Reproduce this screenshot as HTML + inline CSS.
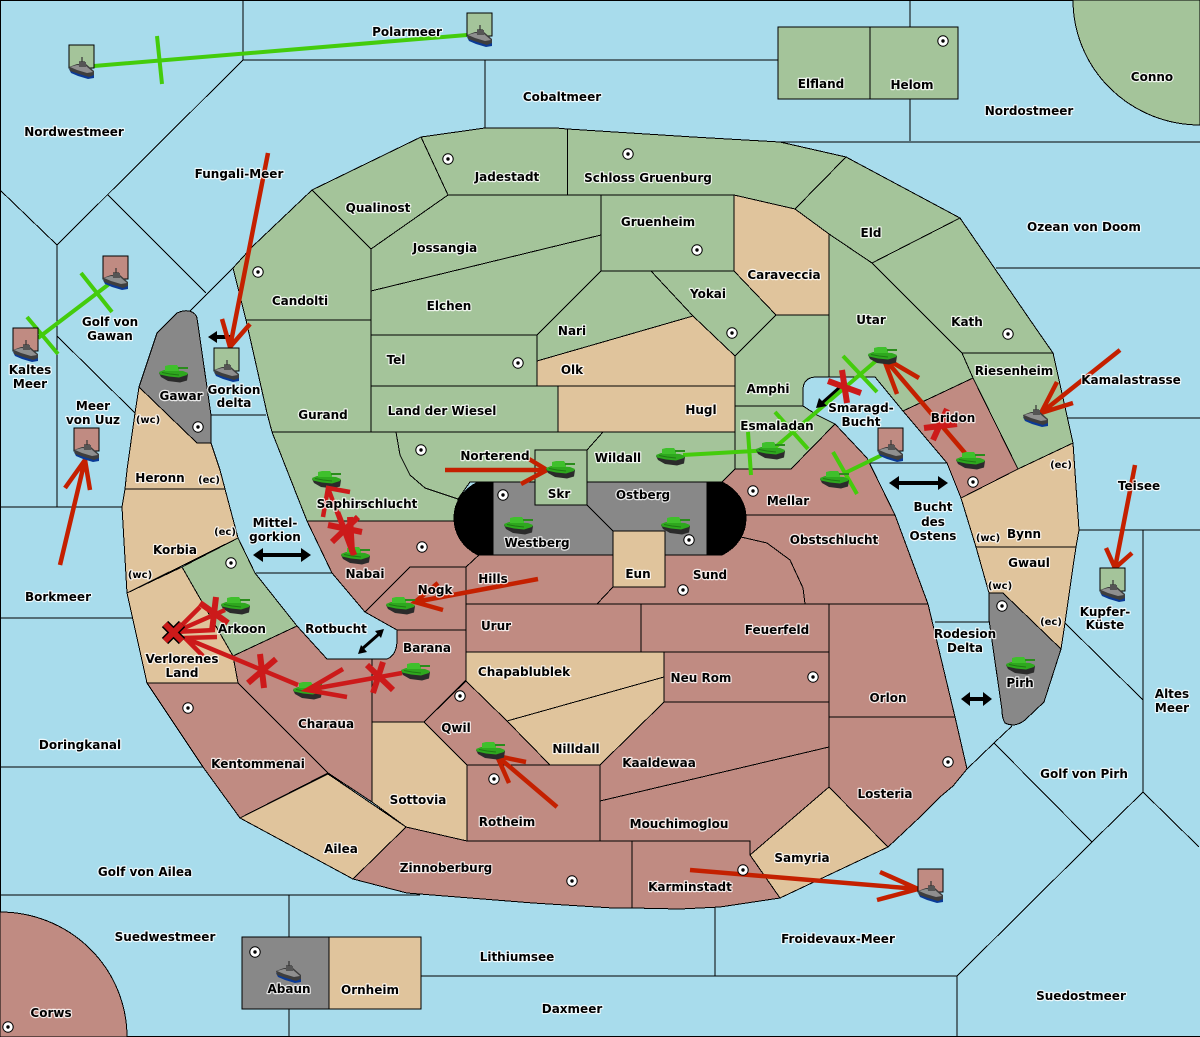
<!DOCTYPE html>
<html><head><meta charset="utf-8"><title>Map</title>
<style>
html,body{margin:0;padding:0;background:#a8dcec;width:1200px;height:1037px;overflow:hidden}
svg{display:block;overflow:hidden}
.l polygon,.l path,.l rect{stroke:#000;stroke-width:1}
.l,.s{shape-rendering:crispEdges}
.s{stroke:#000;stroke-width:1;fill:none}
.g{fill:#a4c49a}.t{fill:#e0c49c}.r{fill:#c08b82}.y{fill:#888}
text{font-family:"DejaVu Sans","Liberation Sans",sans-serif;font-size:12px;font-weight:bold;text-anchor:middle;fill:#000;stroke:#fff;stroke-opacity:.8;stroke-width:2.4;paint-order:stroke;stroke-linejoin:round}
.o{stroke:#c42000;stroke-width:4.5;fill:none}
.x{stroke:#cc1a1a;stroke-width:6;fill:none}
.v{stroke:#44cc0c;stroke-width:4;fill:none}
.b{stroke:#000;stroke-width:4;fill:none}
</style></head><body>
<svg xmlns="http://www.w3.org/2000/svg" width="1200" height="1037" viewBox="0 0 1200 1037">
<defs>
<g id="ship">
<path d="M0 12L2 16L9 19L19 22L25 21L25 17Z" fill="#0a3a96"/>
<path d="M0 10L1 14L10 17L20 20L25 18L25 14L17 7L8 7Z" fill="#3e3e3e"/>
<path d="M1 10L8 8L17 9L24 15L18 16L8 13Z" fill="#8f8f8f"/>
<path d="M13 0V8M10 5H16" stroke="#333" stroke-width="1.2"/>
<rect x="10" y="5" width="7" height="5" fill="#555"/>
</g>
<g id="tank">
<path d="M0 8L2 12L9 16L21 17.5L28 15.5L29 9Z" fill="#2b2b2b"/>
<path d="M0 7L5 5L24 6L29 8L28 10L20 12.5L10 11.5L1 9.5Z" fill="#2ea81e"/>
<path d="M6 1L10 0L18 0L20 3L20 6L6 6Z" fill="#3fc02c"/>
<rect x="19" y="2" width="10" height="2" fill="#2a8c1c"/>
<path d="M3 7.5L11 9L20 10" stroke="#1f7a14" stroke-width="1" fill="none"/>
</g>
<g id="dot"><circle r="5.2" fill="#fff" stroke="#000" stroke-width="1"/><circle r="1.7" fill="#000"/></g>
</defs>
<rect width="1200" height="1037" fill="#a8dcec"/>
<!-- sea borders -->
<g class="s">
<path d="M.5 0V1037M0 .5H1200M0 1036.5H1200"/>
<path d="M243 0V60H910M485 60V128M910 0V141M780 142H1200"/>
<path d="M243 60L57 245L0 190M57 245V507M108 195L206 293M189 312L233 268M57 336L135 413"/>
<path d="M0 507H122M0 618H132M0 767H203M0 895H420M211 415H266M256 573H332"/>
<path d="M289 895V937M289 1009V1037M421 976H957L1092 842L994 743L1012 726M994 743L967 769M715 905V976M957 976V1037"/>
<path d="M1092 842L1143 792V530M1143 792L1199 847M1065 623L1143 700M996 268H1200M1068 418H1200M1079 530H1200"/>
<path d="M868 463H947M935 622H989"/>
</g>
<g class="l">
<path d="M1073 0A127 125 0 0 0 1200 125V0Z" class="g"/>
<path d="M0 912A127 125 0 0 1 127 1037H0Z" class="r"/>
<rect x="778" y="27" width="92" height="72" class="g"/>
<rect x="870" y="27" width="88" height="72" class="g"/>
<rect x="242" y="937" width="87" height="72" class="y"/>
<rect x="329" y="937" width="92" height="72" class="t"/>
<polygon class="g" points="233,268 252,247 312,190 371,249 371,320 246,320 241,300"/>
<polygon class="g" points="246,320 371,320 371,432 272,432 267,413"/>
<polygon class="g" points="312,190 421,137 448,195 371,249"/>
<polygon class="g" points="421,137 485,128 556,128 567.5,129 567.5,195 448,195"/>
<polygon class="g" points="567.5,129 693,137 780,142 846,157 795,209 734,195 567.5,195"/>
<polygon class="g" points="448,195 601,195 601,235 371,291 371,249"/>
<polygon class="g" points="371,291 601,235 601,271 537,335 371,335"/>
<polygon class="g" points="601,195 734,195 734,271 601,271"/>
<polygon class="g" points="601,271 651,271 693,316 537,361 537,335"/>
<polygon class="g" points="651,271 734,271 776,315 735,356 693,316"/>
<polygon class="t" points="734,195 795,209 829,234 829,315 776,315 734,271"/>
<polygon class="t" points="537,361 693,316 735,356 735,386 537,386"/>
<polygon class="g" points="371,335 537,335 537,386 371,386"/>
<polygon class="g" points="371,386 558,386 558,432 371,432"/>
<polygon class="t" points="558,386 735,386 735,432 558,432"/>
<path class="g" d="M735 356L776 315H829V377H815Q803 378 803 390V406H735Z"/>
<polygon class="g" points="735,406 803,406 817,415 835,424 791,469 735,469"/>
<polygon class="g" points="846,157 960,218 872,263 829,234 795,209"/>
<polygon class="g" points="829,234 872,263 962,353 973,378 903,411 875,377 829,377"/>
<polygon class="g" points="872,263 960,218 1037,330 1053,353 962,353"/>
<polygon class="g" points="962,353 1053,353 1073,443 1018,469 973,378"/>
<polygon class="r" points="973,378 1018,469 961,498 947,463 903,411"/>
<polygon class="t" points="961,498 1018,469 1073,443 1079,530 1076,547 976,547"/>
<polygon class="t" points="976,547 1076,547 1074,560 1065,623 1061,649 1003,593 989,593"/>
<path class="y" d="M989 593H1003L1061 649L1044 702L1025 720Q1015 728 1005 723Q1002 718 1002 710L989 620Z"/>
<polygon class="g" points="272,432 396,432 400,455 410,475 425,488 458,499 456,521 307,521 283,460"/>
<polygon class="g" points="396,432 603,432 587,450 535,450 535,482 470,482 458,499 425,488 410,475 400,455"/>
<polygon class="g" points="603,432 735,432 735,469 721,483 587,482 587,450"/>
<polygon class="r" points="735,469 791,469 835,424 867,458 895,515 745,515 721,483"/>
<polygon class="r" points="745,515 895,515 928,604 805,604 803,588 790,560 767,543 741,537"/>
<polygon class="r" points="307,521 470,521 479,555 466,567 410,567 365,612 332,573"/>
<polygon class="r" points="466,567 480,554 613,554 613,587 597,604 466,604"/>
<polygon class="r" points="597,604 613,587 665,587 665,555 720,555 741,537 767,543 790,560 803,588 805,604"/>
<polygon class="r" points="410,567 466,567 466,630 397,630 365,612"/>
<path class="r" d="M397 630H466V680L424 722H372V659H387Q397 655 397 640Z"/>
<polygon class="r" points="466,604 641,604 641,652 466,652"/>
<polygon class="r" points="641,604 829,604 829,652 641,652"/>
<polygon class="t" points="466,652 664,652 664,677 507,721 466,681"/>
<polygon class="r" points="664,652 829,652 829,702 664,702"/>
<polygon class="t" points="507,721 664,677 664,702 600,765 550,765"/>
<polygon class="r" points="466,681 507,721 550,765 467,765 424,722"/>
<polygon class="r" points="829,604 928,604 955,717 829,717"/>
<polygon class="r" points="829,717 955,717 967,769 953,786 940,797 920,817 888,847 829,787"/>
<polygon class="r" points="600,765 664,702 829,702 829,747 600,801"/>
<polygon class="r" points="600,801 829,747 829,787 750,855 750,841 600,841"/>
<polygon class="r" points="467,765 600,765 600,841 467,841"/>
<polygon class="t" points="372,722 424,722 467,765 467,841 406,827 372,802"/>
<polygon class="r" points="406,827 467,841 632,841 632,908 613,908 533,903 407,893 353,879"/>
<polygon class="r" points="632,841 750,841 750,855 780,898 720,907 680,909 632,908"/>
<polygon class="t" points="829,787 888,847 780,898 750,855"/>
<polygon class="t" points="240,818 328,774 406,827 353,879"/>
<polygon class="r" points="147,683 238,683 328,773 240,818 203,767"/>
<polygon class="r" points="233,656 297,626 327,659 372,659 372,802 328,773 238,683"/>
<polygon class="g" points="182,567 238,538 255,573 297,626 233,656"/>
<polygon class="t" points="127,593 182,567 233,656 238,683 147,683"/>
<polygon class="t" points="125,489 225,489 238,538 127,593 122,507"/>
<polygon class="t" points="139,387 197,443 211,443 220,470 225,489 125,489 127,470 135,413"/>
<path class="y" d="M139 387L157 333L177 313Q186 309 192 312Q196 314 197 318L211 415V443H197Z"/>
<rect x="493" y="482" width="214" height="73" class="y"/>
<path d="M493 482H478C462 490 454 503 454 518C454 533 462 547 478 555H493Z" fill="#000"/>
<path d="M707 482H722C738 490 746 503 746 518C746 533 738 547 722 555H707Z" fill="#000"/>
<path d="M587 505L613 531" fill="none"/>
<rect x="535" y="450" width="52" height="55" class="g"/>
<rect x="613" y="531" width="52" height="56" class="t"/>
</g>
<!-- green orders -->
<g class="v">
<path d="M94 66L467 35M157 36L162 84"/>
<path d="M117 278L38 338M81 273L112 312M27 317L58 354"/>
<path d="M683 455L772 450M748 432L751 475"/>
<path d="M772 450L877 360M775 412L808 449M843 356L877 392"/>
<path d="M882 455L845 473M833 452L857 494"/>
</g>
<!-- black arrows -->
<g fill="#000">
<path class="b" d="M216 337H232"/><path d="M208 337L217 331V343Z"/>
<path class="b" d="M260 555H304"/><path d="M253 555L263 548V562ZM311 555L301 548V562Z"/>
<path d="M358 654L367 652L361 645ZM384 629L375 631L381 638Z"/>
<path class="b" style="stroke-width:3" d="M362 649L379 634"/>
<path class="b" style="stroke-width:3" d="M840 387L822 403"/><path d="M816 408L819 398L827 406Z"/>
<path class="b" d="M897 483H940"/><path d="M889 483L899 476V490ZM948 483L938 476V490Z"/>
<path class="b" d="M968 699H985"/><path d="M961 699L970 692V706ZM992 699L983 692V706Z"/>
</g>
<!-- red moves -->
<g class="o">
<path d="M268 153L230 347M222 319L230 347L250 324"/>
<path d="M1120 350L1041 413M1057 382L1041 413L1073 403"/>
<path d="M1135 465L1115 568M1106 548L1115 568L1132 553"/>
<path d="M60 565L85 460M65 488L85 460L90 490"/>
<path d="M445 470H547M529 459L547 470L521 484"/>
<path d="M538 579L415 602M438 583L415 602L443 610"/>
<path d="M557 807L497 756M526 762L497 756L509 783"/>
<path d="M690 870L918 889M880 872L918 889L877 900"/>
<path d="M965 453L883 357M919 378L883 357L897 394"/>
</g>
<!-- supply squares -->
<g stroke="#000" stroke-width="1" shape-rendering="crispEdges">
<rect x="69" y="45" width="25" height="23" class="g"/>
<rect x="467" y="13" width="25" height="23" class="g"/>
<rect x="103" y="256" width="25" height="23" class="r"/>
<rect x="13" y="328" width="25" height="23" class="r"/>
<rect x="214" y="348" width="25" height="23" class="g"/>
<rect x="74" y="428" width="25" height="23" class="r"/>
<rect x="878" y="428" width="25" height="23" class="r"/>
<rect x="1100" y="568" width="25" height="23" class="g"/>
<rect x="918" y="869" width="25" height="23" class="r"/>
</g>
<!-- ships -->
<use href="#ship" x="69" y="57"/><use href="#ship" x="467" y="25"/><use href="#ship" x="103" y="268"/>
<use href="#ship" x="13" y="340"/><use href="#ship" x="214" y="360"/><use href="#ship" x="74" y="440"/>
<use href="#ship" x="878" y="440"/><use href="#ship" x="1100" y="580"/><use href="#ship" x="918" y="881"/>
<use href="#ship" x="276" y="961"/><use href="#ship" x="1023" y="405"/>
<!-- tanks -->
<use href="#tank" x="159" y="365"/><use href="#tank" x="312" y="471"/><use href="#tank" x="341" y="547"/>
<use href="#tank" x="221" y="597"/><use href="#tank" x="386" y="597"/><use href="#tank" x="293" y="682"/>
<use href="#tank" x="401" y="663"/><use href="#tank" x="476" y="742"/><use href="#tank" x="546" y="461"/>
<use href="#tank" x="504" y="517"/><use href="#tank" x="661" y="517"/><use href="#tank" x="656" y="448"/>
<use href="#tank" x="756" y="442"/><use href="#tank" x="868" y="347"/><use href="#tank" x="820" y="471"/>
<use href="#tank" x="956" y="452"/><use href="#tank" x="1006" y="657"/>
<!-- dislodged/failed -->
<g class="x" style="stroke-width:4.5">
<path d="M402 673L307 690M343 669L307 690L347 697"/>
<path d="M298 685L185 638M217 637L185 638L203 656"/>
<path d="M225 610L175 632M200 607L175 632L215 630"/>
<path d="M353 555L328 488M350 492L328 488L323 517"/>
<path d="M355 555L338 512"/>
</g>
<g class="x">
<path d="M383 662L373 693M367 665L393 690"/>
<path d="M260 654L264 688M248 683L276 659"/>
<path d="M216 597L212 631M200 603L228 623"/>
<path d="M358 517L332 542M328 525L362 532M350 517L352 552"/>
<path d="M947 409L933 440M924 428L957 424"/>
<path d="M842 370L847 403M828 381L861 393"/>
</g>
<path d="M165 624L182 641M182 624L165 641" stroke="#000" stroke-width="9" fill="none"/>
<path d="M165 624L182 641M182 624L165 641" stroke="#cc1a1a" stroke-width="6" fill="none"/>
<!-- dots -->
<g>
<use href="#dot" x="448" y="159"/><use href="#dot" x="628" y="154"/><use href="#dot" x="943" y="41"/>
<use href="#dot" x="258" y="272"/><use href="#dot" x="697" y="250"/><use href="#dot" x="732" y="333"/>
<use href="#dot" x="518" y="363"/><use href="#dot" x="1008" y="334"/><use href="#dot" x="421" y="450"/>
<use href="#dot" x="503" y="495"/><use href="#dot" x="198" y="427"/><use href="#dot" x="231" y="563"/>
<use href="#dot" x="422" y="547"/><use href="#dot" x="753" y="491"/><use href="#dot" x="689" y="540"/>
<use href="#dot" x="683" y="590"/><use href="#dot" x="973" y="482"/><use href="#dot" x="1002" y="606"/>
<use href="#dot" x="460" y="696"/><use href="#dot" x="494" y="779"/><use href="#dot" x="813" y="677"/>
<use href="#dot" x="948" y="762"/><use href="#dot" x="188" y="708"/><use href="#dot" x="572" y="881"/>
<use href="#dot" x="743" y="870"/><use href="#dot" x="255" y="952"/><use href="#dot" x="8" y="1027"/>
</g>
<!-- labels -->
<g>
<text x="407" y="36">Polarmeer</text><text x="562" y="101">Cobaltmeer</text><text x="74" y="136">Nordwestmeer</text>
<text x="1029" y="115">Nordostmeer</text><text x="821" y="88">Elfland</text><text x="912" y="89">Helom</text>
<text x="1152" y="81">Conno</text><text x="239" y="178">Fungali-Meer</text><text x="507" y="181">Jadestadt</text>
<text x="648" y="182">Schloss Gruenburg</text><text x="378" y="212">Qualinost</text><text x="871" y="237">Eld</text>
<text x="1084" y="231">Ozean von Doom</text><text x="658" y="226">Gruenheim</text><text x="445" y="252">Jossangia</text>
<text x="784" y="279">Caraveccia</text><text x="300" y="305">Candolti</text><text x="708" y="298">Yokai</text>
<text x="449" y="310">Elchen</text><text x="871" y="324">Utar</text><text x="967" y="326">Kath</text>
<text x="572" y="335">Nari</text><text x="110" y="326">Golf von</text><text x="110" y="340">Gawan</text>
<text x="396" y="364">Tel</text><text x="572" y="374">Olk</text><text x="1014" y="375">Riesenheim</text>
<text x="30" y="374">Kaltes</text><text x="30" y="388">Meer</text><text x="1131" y="384">Kamalastrasse</text>
<text x="768" y="393">Amphi</text><text x="861" y="412">Smaragd-</text><text x="861" y="426">Bucht</text>
<text x="181" y="400">Gawar</text><text x="234" y="394">Gorkion</text><text x="234" y="407">delta</text>
<text x="93" y="410">Meer</text><text x="93" y="424">von Uuz</text><text x="323" y="419">Gurand</text>
<text x="442" y="415">Land der Wiesel</text><text x="701" y="414">Hugl</text><text x="953" y="422">Bridon</text>
<text x="148" y="423" style="font-size:10px">(wc)</text><text x="777" y="430">Esmaladan</text><text x="495" y="460">Norterend</text>
<text x="618" y="462">Wildall</text><text x="1061" y="468" style="font-size:10px">(ec)</text><text x="160" y="482">Heronn</text>
<text x="209" y="483" style="font-size:10px">(ec)</text><text x="1139" y="490">Teisee</text><text x="559" y="498">Skr</text>
<text x="643" y="499">Ostberg</text><text x="788" y="505">Mellar</text><text x="367" y="508">Saphirschlucht</text>
<text x="933" y="511">Bucht</text><text x="933" y="526">des</text><text x="933" y="540">Ostens</text>
<text x="275" y="527">Mittel-</text><text x="275" y="541">gorkion</text><text x="225" y="535" style="font-size:10px">(ec)</text>
<text x="1024" y="538">Bynn</text><text x="988" y="541" style="font-size:10px">(wc)</text><text x="834" y="544">Obstschlucht</text>
<text x="537" y="547">Westberg</text><text x="175" y="554">Korbia</text><text x="1029" y="567">Gwaul</text>
<text x="365" y="578">Nabai</text><text x="140" y="578" style="font-size:10px">(wc)</text><text x="638" y="578">Eun</text>
<text x="710" y="579">Sund</text><text x="493" y="583">Hills</text><text x="1000" y="589" style="font-size:10px">(wc)</text>
<text x="435" y="594">Nogk</text><text x="58" y="601">Borkmeer</text><text x="1051" y="625" style="font-size:10px">(ec)</text>
<text x="1105" y="616">Kupfer-</text><text x="1105" y="629">Küste</text><text x="496" y="630">Urur</text>
<text x="336" y="633">Rotbucht</text><text x="242" y="633">Arkoon</text><text x="777" y="634">Feuerfeld</text>
<text x="965" y="638">Rodesion</text><text x="965" y="652">Delta</text><text x="427" y="652">Barana</text>
<text x="182" y="663">Verlorenes</text><text x="182" y="677">Land</text><text x="524" y="676">Chapablublek</text>
<text x="701" y="682">Neu Rom</text><text x="1020" y="687">Pirh</text><text x="1172" y="698">Altes</text><text x="1172" y="712">Meer</text>
<text x="888" y="702">Orlon</text><text x="456" y="732">Qwil</text><text x="326" y="728">Charaua</text>
<text x="80" y="749">Doringkanal</text><text x="576" y="753">Nilldall</text><text x="659" y="767">Kaaldewaa</text>
<text x="258" y="768">Kentommenai</text><text x="1084" y="778">Golf von Pirh</text><text x="885" y="798">Losteria</text>
<text x="418" y="804">Sottovia</text><text x="507" y="826">Rotheim</text><text x="679" y="828">Mouchimoglou</text>
<text x="341" y="853">Ailea</text><text x="802" y="862">Samyria</text><text x="446" y="872">Zinnoberburg</text>
<text x="145" y="876">Golf von Ailea</text><text x="690" y="891">Karminstadt</text><text x="165" y="941">Suedwestmeer</text>
<text x="838" y="943">Froidevaux-Meer</text><text x="517" y="961">Lithiumsee</text><text x="289" y="993">Abaun</text>
<text x="370" y="994">Ornheim</text><text x="1081" y="1000">Suedostmeer</text><text x="572" y="1013">Daxmeer</text>
<text x="51" y="1017">Corws</text>
</g>
</svg>
</body></html>
